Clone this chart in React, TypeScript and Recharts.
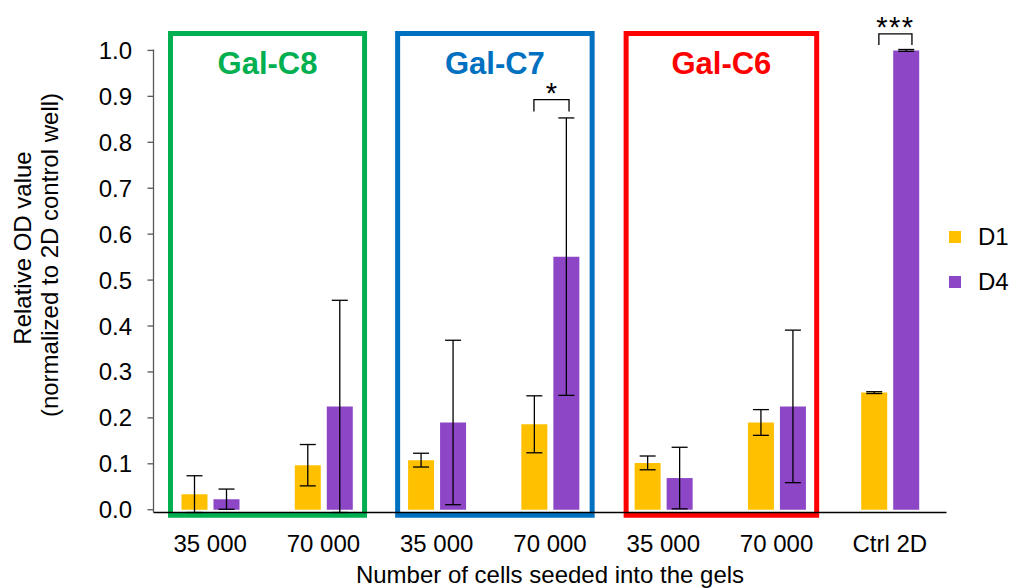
import React from "react";
import {
  BarChart, Bar, XAxis, YAxis, ErrorBar, Legend, ReferenceArea, Label,
} from "recharts";

const FONT = '"Liberation Sans", Arial, sans-serif';

const categories = ["35 000", "70 000", "35 000", "70 000", "35 000", "70 000", "Ctrl 2D"];
const d1Values = [0.034, 0.097, 0.108, 0.186, 0.102, 0.190, 0.255];
const d1Errors = [0.040, 0.045, 0.015, 0.062, 0.015, 0.028, 0.002];
const d4Values = [0.023, 0.225, 0.190, 0.551, 0.069, 0.225, 1.0];
const d4Errors = [0.022, 0.231, 0.179, 0.302, 0.067, 0.166, 0.002];
const yTicks = [0, 0.1, 0.2, 0.3, 0.4, 0.5, 0.6, 0.7, 0.8, 0.9, 1.0];

const series = [
  { key: "d1", err: "d1Err", name: "D1", color: "#FFC000" },
  { key: "d4", err: "d4Err", name: "D4", color: "#8C46C6" },
];

// x runs 0..7, category i is centred on i + 0.5
const groups = [
  { label: "Gal-C8", color: "#00B050", x1: 0.15, x2: 1.863 },
  { label: "Gal-C7", color: "#0070C0", x1: 2.155, x2: 3.872 },
  { label: "Gal-C6", color: "#FF0000", x1: 4.172, x2: 5.854 },
];

const brackets = [
  { stars: "*", x1: 3.358, x2: 3.668, top: 0.893, bottom: 0.867 },
  { stars: "***", x1: 6.403, x2: 6.695, top: 1.036, bottom: 1.012 },
];

const data = categories.map((c, i) => ({
  pos: i + 0.5,
  name: c,
  d1: d1Values[i],
  d1Err: d1Errors[i],
  d4: d4Values[i],
  d4Err: d4Errors[i],
}));

const renderLegend = () => (
  <div style={{ width: 64.5, fontFamily: FONT, fontSize: 24, color: "#000" }}>
    {series.map((s) => (
      <div key={s.key} style={{ height: 45, display: "flex", alignItems: "center", whiteSpace: "nowrap" }}>
        <span style={{ display: "inline-block", width: 12, height: 12, background: s.color, marginLeft: 2.5 }} />
        <span style={{ marginLeft: 17 }}>{s.name}</span>
      </div>
    ))}
  </div>
);

const bracketShape = (p: any) => {
  const { x, y, width, height } = p;
  return <path d={`M${x},${y + height}L${x},${y}L${x + width},${y}L${x + width},${y + height}`} fill="none" stroke="#000" strokeWidth={1.3} />;
};

export default function App() {
  return (
    <div style={{ position: "absolute", left: 0, top: 0, width: 1011, height: 588 }}>
      <BarChart
        width={1011}
        height={588}
        data={data}
        margin={{ top: 49.5, right: 0, left: 0, bottom: 0 }}
        barGap={6}
      >
        <XAxis
          dataKey="pos"
          type="number"
          domain={[0, 7]}
          allowDataOverflow
          ticks={data.map((d) => d.pos)}
          interval={0}
          tickFormatter={(v: number) => categories[Math.floor(v)]}
          height={75.5}
          tickLine={false}
          axisLine={{ stroke: "#000", strokeWidth: 1.3 }}
          tick={{ fontSize: 24, fill: "#000", fontFamily: FONT }}
          tickMargin={16.5}
        >
          <Label
            content={({ viewBox }: any) => (
              <text x={viewBox.x + viewBox.width / 2} y={viewBox.y + 70.5} textAnchor="middle" fontSize={24} fontFamily={FONT} fill="#000">
                Number of cells seeded into the gels
              </text>
            )}
          />
        </XAxis>
        <YAxis
          width={153.5}
          domain={[0, 1]}
          ticks={yTicks}
          interval={0}
          tickFormatter={(v: number) => v.toFixed(1)}
          tick={{ fontSize: 24, fill: "#000", fontFamily: FONT }}
          tickSize={6}
          tickMargin={15.5}
          axisLine={{ stroke: "#595959", strokeWidth: 1.3 }}
          tickLine={{ stroke: "#595959", strokeWidth: 1.3 }}
        >
          <Label
            content={() => (
              <g fontFamily={FONT} fontSize={24} fill="#000">
                <text x={22} y={248} textAnchor="middle" dominantBaseline="central" transform="rotate(-90 22 248)">
                  Relative OD value
                </text>
                <text x={49} y={255} textAnchor="middle" dominantBaseline="central" transform="rotate(-90 49 255)">
                  (normalized to 2D control well)
                </text>
              </g>
            )}
          />
        </YAxis>
        <Legend
          layout="vertical"
          align="right"
          verticalAlign="middle"
          content={renderLegend}
          wrapperStyle={{ top: 214, right: 0 }}
        />
        {series.map((s) => (
          <Bar key={s.key} dataKey={s.key} name={s.name} fill={s.color} barSize={26} isAnimationActive={false}>
            <ErrorBar dataKey={s.err} width={8} stroke="#000" strokeWidth={1.3} direction="y" />
          </Bar>
        ))}
        {groups.map((g) => (
          <ReferenceArea
            key={g.label}
            x1={g.x1}
            x2={g.x2}
            y1={-0.012}
            y2={1.037}
            ifOverflow="visible"
            fill="none"
            fillOpacity={0}
            stroke={g.color}
            strokeWidth={5}
            label={({ viewBox }: any) => (
              <text x={viewBox.x + viewBox.width / 2} y={viewBox.y + 40.5} textAnchor="middle" fontSize={31} fontWeight="bold" fontFamily={FONT} fill={g.color}>
                {g.label}
              </text>
            )}
          />
        ))}
        {brackets.map((b, i) => (
          <ReferenceArea
            key={i}
            x1={b.x1}
            x2={b.x2}
            y1={b.bottom}
            y2={b.top}
            ifOverflow="visible"
            shape={bracketShape}
            label={({ viewBox }: any) => (
              <text x={viewBox.x + viewBox.width / 2} y={viewBox.y + 3} textAnchor="middle" fontSize={29} fontFamily={FONT} fill="#000" letterSpacing={b.stars.length > 1 ? 1.5 : 0}>
                {b.stars}
              </text>
            )}
          />
        ))}
      </BarChart>
    </div>
  );
}
